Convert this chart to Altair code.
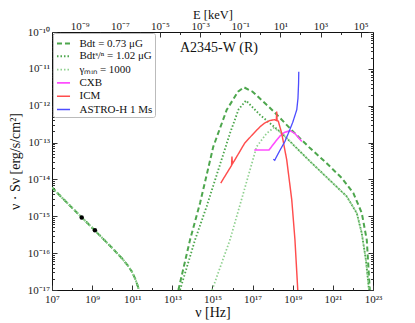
import altair as alt
import pandas as pd

SERIF = "Liberation Serif"

# ---------------- data (log10 values) ----------------
series_names = ["Bdt = 0.73 μG", "Bdtˢ/ⁿ = 1.02 μG", "γₘᵢₙ = 1000", "CXB", "ICM", "ASTRO-H 1 Ms"]

radio_lognu = [7.0, 8.0, 9.0, 10.0, 10.5, 10.8, 11.0, 11.15, 11.28, 11.36]
radio_logS = [-14.22, -14.77, -15.31, -15.86, -16.15, -16.35, -16.52, -16.70, -16.90, -17.05]

dash_lognu = [13.30, 13.88, 14.38, 15.04, 15.71, 16.27, 16.57, 17.0, 17.87, 18.2, 19.05, 19.86, 20.69, 21.44, 22.02, 22.44, 22.69, 22.84]
dash_logS = [-17.0, -15.64, -14.64, -13.11, -12.11, -11.62, -11.50, -11.62, -12.06, -12.24, -12.72, -13.15, -13.56, -13.96, -14.37, -14.91, -15.64, -17.0]

dot_lognu = [13.38, 14.13, 14.71, 15.29, 15.87, 16.3, 16.67, 17.37, 18.4, 19.86, 21.69, 22.19, 22.44, 22.65, 22.8]
dot_logS = [-17.0, -15.64, -14.73, -13.74, -12.75, -12.10, -11.86, -12.25, -12.72, -13.51, -14.46, -14.91, -15.46, -16.2, -17.0]

gam_lognu = [14.98, 15.87, 16.54, 17.2, 17.7, 18.05, 18.4, 19.86, 21.69, 22.19, 22.44, 22.65, 22.8]
gam_logS = [-17.0, -15.64, -14.37, -13.11, -12.75, -12.60, -12.72, -13.51, -14.46, -14.91, -15.46, -16.2, -17.0]

cxb_lognu = [17.08, 17.82, 18.1, 18.37, 18.6, 18.87, 19.1, 19.45]
cxb_logS = [-13.2, -13.2, -13.0, -12.82, -12.72, -12.68, -12.75, -12.97]

icm_lognu = [15.41, 15.95, 15.97, 15.99, 16.07, 16.6, 17.0, 17.37, 17.6, 17.87, 18.1, 18.18, 18.2, 18.22, 18.28, 18.45, 18.7, 18.95, 19.11, 19.25]
icm_logS = [-14.10, -13.62, -13.38, -13.58, -13.51, -13.02, -12.78, -12.57, -12.47, -12.40, -12.38, -12.40, -12.16, -12.40, -12.42, -12.75, -13.47, -14.55, -15.64, -17.0]

ah_lognu = [18.03, 18.1, 18.37, 18.6, 18.78, 19.0, 19.2, 19.26, 19.29, 19.3]
ah_logS = [-13.45, -13.48, -13.20, -12.98, -12.75, -12.45, -12.11, -11.80, -11.40, -11.08]

pts_lognu = [8.48, 9.14]
pts_logS = [-15.03, -15.38]

annotation = ["A2345-W (R)"]

colors = ["#4da64d", "#4da64d", "#8fd08f", "#ff4dff", "#ff4d4d", "#4d4dff"]
dashes = [[5, 3], [1.5, 2], [1.5, 2], [1, 0], [1, 0], [1, 0]]
widths = [2.0, 1.3, 1.3, 1.5, 1.5, 1.5]

H_KEV = 4.135667e-18  # keV s

# ---------------- build table ----------------
rows = []
def add(name, seg, lx, ly):
    for i, (a, b) in enumerate(zip(lx, ly)):
        rows.append({"series": name, "segment": f"{name}-{seg}", "order": i,
                     "nu": 10 ** a, "S": 10 ** b})

add(series_names[0], "r", radio_lognu, radio_logS)
add(series_names[0], "ic", dash_lognu, dash_logS)
add(series_names[1], "r", radio_lognu, radio_logS)
add(series_names[1], "ic", dot_lognu, dot_logS)
add(series_names[2], "r", radio_lognu, radio_logS)
add(series_names[2], "ic", gam_lognu, gam_logS)
add(series_names[3], "a", cxb_lognu, cxb_logS)
add(series_names[4], "a", icm_lognu, icm_logS)
add(series_names[5], "a", ah_lognu, ah_logS)
df = pd.DataFrame(rows)

pts = pd.DataFrame({"nu": [10 ** v for v in pts_lognu], "S": [10 ** v for v in pts_logS]})

SUP = str.maketrans("-0123456789", "⁻⁰¹²³⁴⁵⁶⁷⁸⁹")
def label_expr(exps):
    parts = [f"round(log(datum.value)/LN10) == {e} ? '10{str(e).translate(SUP)}' :" for e in exps]
    return " ".join(parts) + " ''"

XDOM = [1e7, 1e23]
YDOM = [1e-17, 1e-10]
EDOM = [H_KEV * 1e7, H_KEV * 1e23]

x_major = [10.0 ** e for e in range(7, 24, 2)]
x_minor = [10.0 ** e for e in range(8, 23, 2)]
y_major = [10.0 ** e for e in range(-17, -9)]
y_minor = [k * 10.0 ** e for e in range(-17, -10) for k in range(2, 10)]
e_major = [10.0 ** e for e in range(-9, 6, 2)]
e_minor = [10.0 ** e for e in range(-10, 5, 2)]

common = dict(domain=False, grid=False, labelFont=SERIF, labelFontSize=11, labelColor="#222",
              titleFont=SERIF, titleFontWeight="normal", titleColor="#111",
              tickColor="#333", labelFlush=False, labelOverlap=False)

def major_axis(orient, values, exps, labels=True, label_pad=2.5, **extra):
    kw = dict(common)
    kw.update(orient=orient, values=values, tickSize=5, offset=-5, labelPadding=label_pad,
              labels=labels, title=None)
    if labels:
        kw["labelExpr"] = label_expr(exps)
    kw.update(extra)
    return alt.Axis(**kw)

def minor_axis(orient, values):
    kw = dict(common)
    kw.update(orient=orient, values=values, tickSize=2.5, offset=-2.5, labels=False, title=None)
    return alt.Axis(**kw)

xs = alt.Scale(type="log", domain=XDOM, nice=False)
ys = alt.Scale(type="log", domain=YDOM, nice=False)
es = alt.Scale(type="log", domain=EDOM, nice=False)

X = alt.X("nu:Q", scale=xs, axis=major_axis(
    "bottom", x_major, list(range(7, 24, 2)), label_pad=3,
    title="ν [Hz]", titleFontSize=14, titleY=31, titleBaseline="alphabetic"))
Y = alt.Y("S:Q", scale=ys, axis=major_axis(
    "left", y_major, list(range(-17, -9)), label_pad=2.5,
    title="ν · Sν [erg/s/cm²]", titleFontSize=14, titleX=-38, titleBaseline="alphabetic"))

lines = alt.Chart(df).mark_line(clip=True, strokeCap="butt").encode(
    x=X, y=Y,
    color=alt.Color("series:N", scale=alt.Scale(domain=series_names, range=colors), title=None),
    strokeDash=alt.StrokeDash("series:N", scale=alt.Scale(domain=series_names, range=dashes), title=None),
    strokeWidth=alt.StrokeWidth("series:N", scale=alt.Scale(domain=series_names, range=widths), title=None),
    detail="segment:N",
    order="order:Q",
)

points = alt.Chart(pts).mark_circle(size=20, color="black", opacity=1).encode(x=X, y=Y)

label = alt.Chart(pd.DataFrame({"label": annotation})).mark_text(
    align="left", baseline="alphabetic", font=SERIF, fontSize=14, color="#111"
).encode(x=alt.value(128), y=alt.value(20), text="label:N")

main = alt.layer(lines, points, label)

edf = pd.DataFrame({"E": EDOM, "S": YDOM})
top_right = alt.Chart(edf).mark_point(opacity=0).encode(
    x=alt.X("E:Q", scale=es, axis=major_axis(
        "top", e_major, list(range(-9, 6, 2)), label_pad=0.5,
        title="E [keV]", titleFontSize=12.5, titleY=-19, titleBaseline="alphabetic")),
    y=alt.Y("S:Q", scale=ys, axis=major_axis("right", y_major, [], labels=False)),
)
minor_bl = alt.Chart(pd.DataFrame({"nu": XDOM, "S": YDOM})).mark_point(opacity=0).encode(
    x=alt.X("nu:Q", scale=xs, axis=minor_axis("bottom", x_minor)),
    y=alt.Y("S:Q", scale=ys, axis=minor_axis("left", y_minor)),
)
minor_tr = alt.Chart(edf).mark_point(opacity=0).encode(
    x=alt.X("E:Q", scale=es, axis=minor_axis("top", e_minor)),
    y=alt.Y("S:Q", scale=ys, axis=minor_axis("right", y_minor)),
)

chart = alt.layer(main, top_right, minor_bl, minor_tr).resolve_scale(
    x="independent", y="independent"
).properties(
    width=321, height=258,
    autosize=alt.AutoSizeParams(type="none"),
    padding={"left": 44, "top": 24, "right": 18, "bottom": 30},
    background="white",
).configure_view(
    stroke="#111", strokeWidth=1
).configure_legend(
    orient="top-left", offset=1, padding=2.5, rowPadding=0.3,
    strokeColor="#bbbbbb", fillColor="white", cornerRadius=2,
    labelFont=SERIF, labelFontSize=11, labelColor="#111",
    symbolType="stroke", symbolSize=170, labelOffset=8, symbolOpacity=1,
)

chart.save("out.html", embed_options={"renderer": "svg", "actions": False})
